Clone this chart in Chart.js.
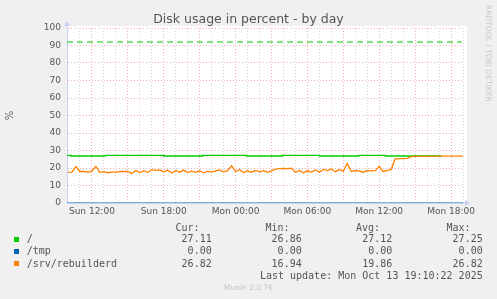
<!DOCTYPE html>
<html>
<head>
<meta charset="utf-8">
<title>Disk usage in percent - by day</title>
<style>
body { margin: 0; background: #f0f0f0; }
#wrap { position: relative; width: 497px; height: 299px; overflow: hidden; }
#chart { position: absolute; left: 0; top: 0; }
#title { position: absolute; left: 0; width: 497px; top: 11px; text-align: center; font-family: "DejaVu Sans", sans-serif; font-size: 12.5px; line-height: 16px; color: #555; }
.lg { position: absolute; font-family: "DejaVu Sans Mono", monospace; font-size: 10px; line-height: 12px; height: 12px; color: #555; white-space: pre; }
.sq { position: absolute; width: 5px; height: 5px; }
#rrd { position: absolute; left: 483px; top: 5px; writing-mode: vertical-rl; font-family: "DejaVu Sans", sans-serif; font-size: 7.5px; line-height: 10px; color: #c8c8c8; }
#munin { position: absolute; left: 0; width: 497px; top: 282.7px; text-align: center; font-family: "DejaVu Sans", sans-serif; font-size: 7.5px; line-height: 10px; color: #c4c4c4; }
</style>
</head>
<body>
<div id="wrap">
  <canvas id="chart" width="497" height="299"></canvas>
  <div id="title">Disk usage in percent - by day</div>
  <div id="rrd">RRDTOOL / TOBI OETIKER</div>
  <div id="munin">Munin 2.0.76</div>
</div>
<script src="https://cdn.jsdelivr.net/npm/chart.js"></script>
<script>
// hours counted from Sun 00:00
var xMin = 9.92;
var xMax = 43.0;
var tickHours = [12, 18, 24, 30, 36, 42];
var tickLabels = ['Sun 12:00', 'Sun 18:00', 'Mon 00:00', 'Mon 06:00', 'Mon 12:00', 'Mon 18:00'];

var seriesNames = ['/', '/tmp', '/srv/rebuilderd'];
var seriesColors = ['#00CC00', '#0066B3', '#FF8000'];
var statCur = [27.11, 0.00, 26.82];
var statMin = [26.86, 0.00, 16.94];
var statAvg = [27.12, 0.00, 19.86];
var statMax = [27.25, 0.00, 26.82];
var lastUpdate = 'Last update: Mon Oct 13 19:10:22 2025';

var warnLevel = 92;

// "/" - stepped between two levels
var rootHours = [9.92, 10.25, 13.1, 18.0, 21.25, 24.9, 27.9, 31.0, 34.3, 36.5, 41.2];
var rootValues = [27.25, 26.86, 27.25, 26.86, 27.25, 26.86, 27.25, 26.86, 27.25, 26.86, 26.86];

// "/tmp"
var tmpHours = [9.92, 43.0];
var tmpValues = [0, 0];

// "/srv/rebuilderd"
var srvHours = [10, 10.33, 10.67, 11, 11.33, 11.67, 12, 12.33, 12.67, 13,
  13.33, 13.67, 14, 14.33, 14.67, 15, 15.33, 15.67, 16, 16.33,
  16.67, 17, 17.33, 17.67, 18, 18.33, 18.67, 19, 19.33, 19.67,
  20, 20.33, 20.67, 21, 21.33, 21.67, 22, 22.33, 22.67, 23,
  23.33, 23.67, 24, 24.33, 24.67, 25, 25.33, 25.67, 26, 26.33,
  26.67, 27, 27.33, 27.67, 28, 28.33, 28.67, 29, 29.33, 29.67,
  30, 30.33, 30.67, 31, 31.33, 31.67, 32, 32.33, 32.67, 33,
  33.33, 33.67, 34, 34.33, 34.67, 35, 35.33, 35.67, 36, 36.33,
  36.67, 37, 37.33, 37.67, 38, 38.33, 38.67, 39, 39.33, 39.67,
  40, 40.33, 40.67, 41, 41.33, 41.67, 42, 42.33, 42.67, 43];
var srvValues = [17.5, 17.6, 20.8, 18.0, 18.0, 17.6, 18.2, 20.9, 17.4, 17.9,
  17.3, 17.6, 17.7, 18.0, 18.0, 18.0, 16.9, 18.6, 17.4, 18.3,
  17.5, 19.1, 18.6, 18.9, 17.8, 18.7, 17.3, 18.5, 17.6, 18.8,
  17.4, 18.2, 17.5, 18.4, 17.2, 18.1, 17.6, 18.3, 18.9, 17.8,
  18.5, 21.2, 18.0, 19.0, 17.4, 18.3, 17.6, 18.6, 17.8, 18.5,
  17.5, 18.4, 19.4, 19.6, 19.8, 19.7, 19.9, 17.5, 18.6, 17.3,
  18.4, 17.7, 18.9, 17.6, 19.2, 18.5, 19.4, 17.9, 19.0, 18.2,
  22.6, 18.0, 18.5, 18.4, 17.6, 18.5, 18.4, 18.5, 21.0, 17.9,
  18.6, 19.1, 25.2, 25.4, 25.4, 25.5, 26.5, 26.6, 26.7, 26.7,
  26.7, 26.7, 26.8, 26.8, 26.8, 26.8, 26.8, 26.8, 26.8, 26.82];

function pts(hours, vals) {
  return hours.map(function (h, i) { return { x: h, y: vals[i] }; });
}

var minorGrid = 'rgba(200,200,200,0.75)';
var majorGrid = 'rgba(235,150,150,0.75)';
var axisColor = '#c8cff4';

// white plot area + rrdtool style arrows
var rrdLook = {
  id: 'rrdLook',
  beforeDraw: function (chart) {
    var a = chart.chartArea, c = chart.ctx;
    c.save();
    c.fillStyle = '#ffffff';
    c.fillRect(a.left, a.top - 2, a.right - a.left + 4, a.bottom - a.top + 2);
    c.restore();
  },
  afterDraw: function (chart) {
    var a = chart.chartArea, c = chart.ctx;
    c.save();
    c.fillStyle = axisColor;
    c.strokeStyle = axisColor;
    c.lineWidth = 1;
    c.beginPath(); c.moveTo(a.left, a.top); c.lineTo(a.left, a.top - 3); c.stroke();
    c.beginPath(); c.moveTo(a.left - 3, a.top - 2); c.lineTo(a.left + 3, a.top - 2); c.lineTo(a.left, a.top - 7); c.closePath(); c.fill();
    c.beginPath(); c.moveTo(a.right, a.bottom); c.lineTo(a.right + 3, a.bottom); c.stroke();
    c.beginPath(); c.moveTo(a.right + 2, a.bottom - 3); c.lineTo(a.right + 2, a.bottom + 3); c.lineTo(a.right + 7, a.bottom); c.closePath(); c.fill();
    c.restore();
  }
};

var ctx = document.getElementById('chart').getContext('2d');
var myChart = new Chart(ctx, {
  type: 'line',
  data: {
    datasets: [
      { label: seriesNames[2], data: pts(srvHours, srvValues), borderColor: seriesColors[2], borderWidth: 1.3, pointRadius: 0, order: 0 },
      { label: seriesNames[1], data: pts(tmpHours, tmpValues), borderColor: seriesColors[1], borderWidth: 1, pointRadius: 0, order: 1 },
      { label: seriesNames[0], data: pts(rootHours, rootValues), borderColor: seriesColors[0], borderWidth: 1.3, pointRadius: 0, stepped: true, order: 2 },
      { label: 'warning', data: pts([xMin, xMax - 0.1], [warnLevel, warnLevel]), borderColor: '#00CC00', borderWidth: 1.2, borderDash: [6, 4], pointRadius: 0, order: 3 }
    ]
  },
  options: {
    responsive: false,
    animation: false,
    layout: { padding: { left: 0, right: 34, top: 28, bottom: 80 } },
    plugins: {
      legend: { display: false },
      tooltip: { enabled: false },
      title: { display: false }
    },
    scales: {
      x: {
        type: 'linear',
        min: xMin,
        max: xMax,
        afterFit: function (scale) { scale.height = 16; },
        afterBuildTicks: function (scale) {
          var t = [];
          for (var h = Math.ceil(xMin); h <= Math.floor(xMax); h++) t.push({ value: h });
          scale.ticks = t;
        },
        grid: {
          drawTicks: false,
          color: function (c) { return c.tick && c.tick.value % 3 === 0 ? majorGrid : minorGrid; }
        },
        border: { color: axisColor, dash: [1, 2] },
        ticks: {
          autoSkip: false,
          maxRotation: 0,
          padding: 3,
          color: '#555',
          font: { family: 'DejaVu Sans', size: 9 },
          callback: function (v) {
            var i = tickHours.indexOf(v);
            return i >= 0 ? tickLabels[i] : '';
          }
        }
      },
      y: {
        min: 0,
        max: 100,
        afterFit: function (scale) { scale.width = 67; },
        grid: {
          drawTicks: false,
          color: function (c) { return c.tick && c.tick.value % 10 === 0 ? majorGrid : minorGrid; }
        },
        border: { color: axisColor, dash: [1, 2] },
        title: { display: true, text: '%', color: '#555', font: { family: 'DejaVu Sans', size: 10 } },
        ticks: {
          stepSize: 5,
          padding: 6,
          color: '#555',
          font: { family: 'DejaVu Sans', size: 9 },
          callback: function (v) { return v % 10 === 0 ? String(v) : ''; }
        }
      }
    }
  },
  plugins: [rrdLook]
});

// legend block under the graph
var wrap = document.getElementById('wrap');
function put(text, rightEdge, leftEdge, centerY) {
  var d = document.createElement('div');
  d.className = 'lg';
  d.textContent = text;
  if (rightEdge !== null) d.style.right = (497 - rightEdge) + 'px';
  else d.style.left = leftEdge + 'px';
  d.style.top = (centerY - 6) + 'px';
  wrap.appendChild(d);
}
var colRight = [211.7, 301.7, 392.3, 482.7];
var colHead = ['Cur:', 'Min:', 'Avg:', 'Max:'];
colHead.forEach(function (h, i) { put(h, colRight[i] - 12.2, null, 228.3); });
var rowY = [239.4, 251.4, 263.5];
seriesNames.forEach(function (name, i) {
  var sq = document.createElement('div');
  sq.className = 'sq';
  sq.style.background = seriesColors[i];
  sq.style.left = '14px';
  sq.style.top = (rowY[i] - 2.5) + 'px';
  wrap.appendChild(sq);
  put(name, null, 26.7, rowY[i]);
  [statCur, statMin, statAvg, statMax].forEach(function (arr, j) {
    put(arr[i].toFixed(2), colRight[j], null, rowY[i]);
  });
});
put(lastUpdate, 482.7, null, 275.6);
</script>
</body>
</html>
